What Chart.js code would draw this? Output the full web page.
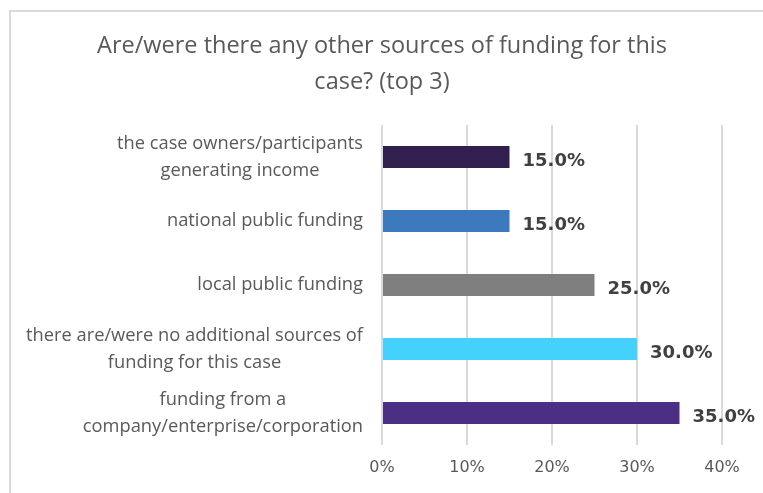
<!DOCTYPE html>
<html>
<head>
<meta charset="utf-8">
<script src="https://cdn.jsdelivr.net/npm/chart.js@4"></script>
<style>
  body { margin: 0; background: #fff; }
  #wrap { position: relative; width: 763px; height: 493px; overflow: hidden; }
  #frame { position: absolute; left: 9px; top: 10px; width: 800px; height: 600px; border: 2px solid #d9d9d9; box-sizing: border-box; }
  canvas { position: absolute; left: 0; top: 0; }
</style>
</head>
<body>
<div id="wrap">
  <div id="frame"></div>
  <canvas id="chart" width="763" height="493"></canvas>
</div>
<script>
// данные
const categories = [
  ["the case owners/participants", "generating income"],
  ["national public funding"],
  ["local public funding"],
  ["there are/were no additional sources of", "funding for this case"],
  ["funding from a", "company/enterprise/corporation"]
];
const values = [15, 15, 25, 30, 35];
const barColors = ["#31204f", "#3c79bd", "#7f7f7f", "#44d2fd", "#4b2f84"];
const xTicks = [0, 10, 20, 30, 40];
const titleLines = ["Are/were there any other sources of funding for this", "case? (top 3)"];

const FONT = "'Open Sans', sans-serif";
const NUM_FONT = "'DejaVu Sans', sans-serif";

// заголовок по центру всего холста
const titlePlugin = {
  id: "titlePlugin",
  afterDraw(chart) {
    const ctx = chart.ctx;
    ctx.save();
    ctx.font = "23.5px " + FONT;
    ctx.fillStyle = "#595959";
    ctx.textAlign = "center";
    ctx.textBaseline = "middle";
    titleLines.forEach((t, k) => ctx.fillText(t, 382, 46 + k * 36));
    ctx.restore();
  }
};

// подписи значений справа от столбцов
const valueLabels = {
  id: "valueLabels",
  afterDatasetsDraw(chart) {
    const ctx = chart.ctx;
    const meta = chart.getDatasetMeta(0);
    ctx.save();
    ctx.font = "bold 18px " + NUM_FONT;
    ctx.fillStyle = "#404040";
    ctx.textAlign = "left";
    ctx.textBaseline = "middle";
    meta.data.forEach((bar, i) => {
      ctx.fillText(values[i].toFixed(1) + "%", bar.x + 13, bar.y + 4);
    });
    ctx.restore();
  }
};

// подписи категорий: блок выровнен вправо, строки по центру
const categoryLabels = {
  id: "categoryLabels",
  afterDraw(chart) {
    const ctx = chart.ctx;
    const y = chart.scales.y;
    const right = y.right - 19;
    const lh = 27;
    ctx.save();
    ctx.font = "18.3px " + FONT;
    ctx.fillStyle = "#595959";
    ctx.textAlign = "center";
    ctx.textBaseline = "middle";
    categories.forEach((lines, i) => {
      const cy = y.getPixelForValue(i);
      const w = Math.max(...lines.map(l => ctx.measureText(l).width));
      const cx = right - w / 2;
      lines.forEach((l, k) => {
        ctx.fillText(l, cx, cy + (k - (lines.length - 1) / 2) * lh);
      });
    });
    ctx.restore();
  }
};

new Chart(document.getElementById("chart").getContext("2d"), {
  type: "bar",
  data: {
    labels: categories.map(c => c.join(" ")),
    datasets: [{
      data: values,
      backgroundColor: barColors,
      categoryPercentage: 1,
      barPercentage: 0.34
    }]
  },
  options: {
    indexAxis: "y",
    responsive: false,
    animation: false,
    layout: { padding: { left: 0, right: 41, top: 125, bottom: 0 } },
    plugins: {
      legend: { display: false },
      tooltip: { enabled: false },
      title: { display: false }
    },
    scales: {
      x: {
        min: 0,
        max: 40,
        afterBuildTicks(scale) { scale.ticks = xTicks.map(v => ({ value: v })); },
        afterFit(scale) { scale.height = 48; },
        grid: { color: "#d9d9d9", lineWidth: 2, drawTicks: false },
        border: { display: false },
        ticks: {
          padding: 13,
          color: "#595959",
          font: { family: NUM_FONT, size: 16 },
          callback: v => v + "%"
        }
      },
      y: {
        afterFit(scale) { scale.width = 382; },
        grid: { display: false },
        border: { display: false },
        ticks: { display: false }
      }
    }
  },
  plugins: [valueLabels, categoryLabels, titlePlugin]
});
</script>
</body>
</html>
